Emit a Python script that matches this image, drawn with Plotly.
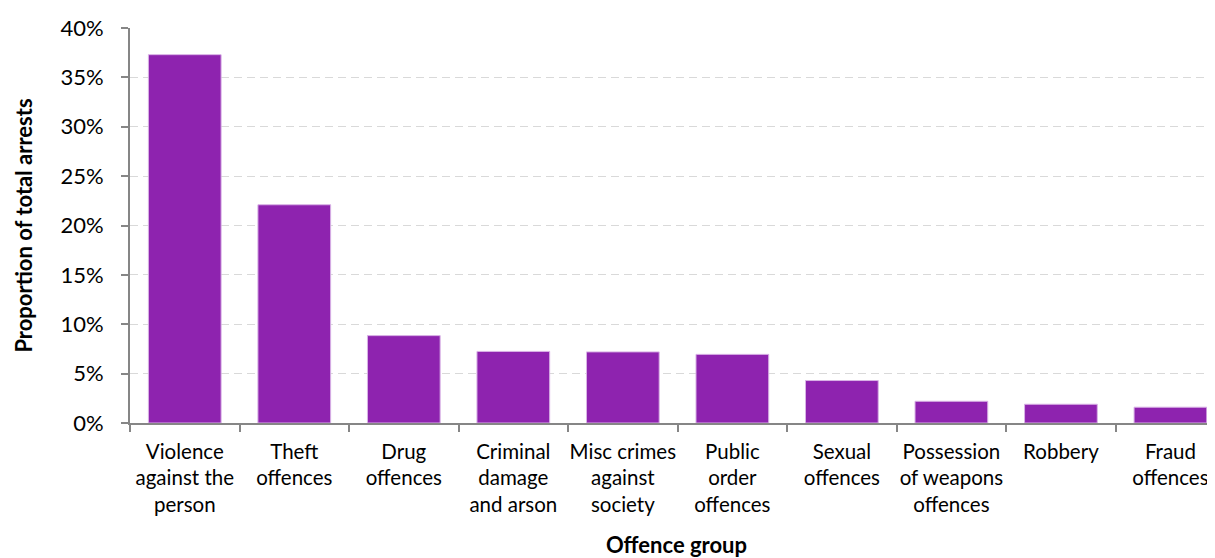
import plotly.graph_objects as go

categories = [
    "Violence<br>against the<br>person",
    "Theft<br>offences",
    "Drug<br>offences",
    "Criminal<br>damage<br>and arson",
    "Misc crimes<br>against<br>society",
    "Public<br>order<br>offences",
    "Sexual<br>offences",
    "Possession<br>of weapons<br>offences",
    "Robbery",
    "Fraud<br>offences",
]
values = [0.373, 0.221, 0.0885, 0.0725, 0.072, 0.0695, 0.043, 0.022, 0.019, 0.016]
y_ticks = [0, 0.05, 0.10, 0.15, 0.20, 0.25, 0.30, 0.35, 0.40]

FONT = "Lato"
fig = go.Figure(
    go.Bar(
        x=categories,
        y=values,
        marker=dict(color="#8E23AF", line=dict(color="#D9B3E6", width=1)),
        hoverinfo="x+y",
    )
)

fig.update_layout(
    width=1215,
    height=550,
    margin=dict(l=122, r=0, t=20, b=135),
    plot_bgcolor="white",
    paper_bgcolor="white",
    bargap=0.336,
    showlegend=False,
    font=dict(family=FONT, size=20, color="#000000"),
)

fig.update_xaxes(
    type="category",
    range=[-0.5, 9.48],
    automargin=False,
    tickangle=0,
    tickson="boundaries",
    ticks="outside",
    ticklen=7,
    tickcolor="#868686",
    tickwidth=1.5,
    showline=True,
    linecolor="#868686",
    linewidth=2,
    showgrid=False,
    tickfont=dict(family=FONT, size=20.5),
    ticklabelstandoff=9,
    title=dict(text="<b>Offence group</b>", font=dict(family=FONT, size=22), standoff=26),
)

fig.update_yaxes(
    range=[0, 0.40],
    automargin=False,
    tickvals=y_ticks,
    tickformat=".0%",
    ticks="outside",
    ticklen=7,
    tickcolor="#868686",
    tickwidth=1.5,
    showline=True,
    linecolor="#868686",
    linewidth=2,
    showgrid=True,
    gridcolor="#D9D9D9",
    griddash="8px,5px",
    gridwidth=1.2,
    zeroline=False,
    tickfont=dict(family=FONT, size=22),
    ticklabelstandoff=13,
    title=dict(text="<b>Proportion of total arrests</b>", font=dict(family=FONT, size=22), standoff=22),
)

fig.write_html("out.html")
